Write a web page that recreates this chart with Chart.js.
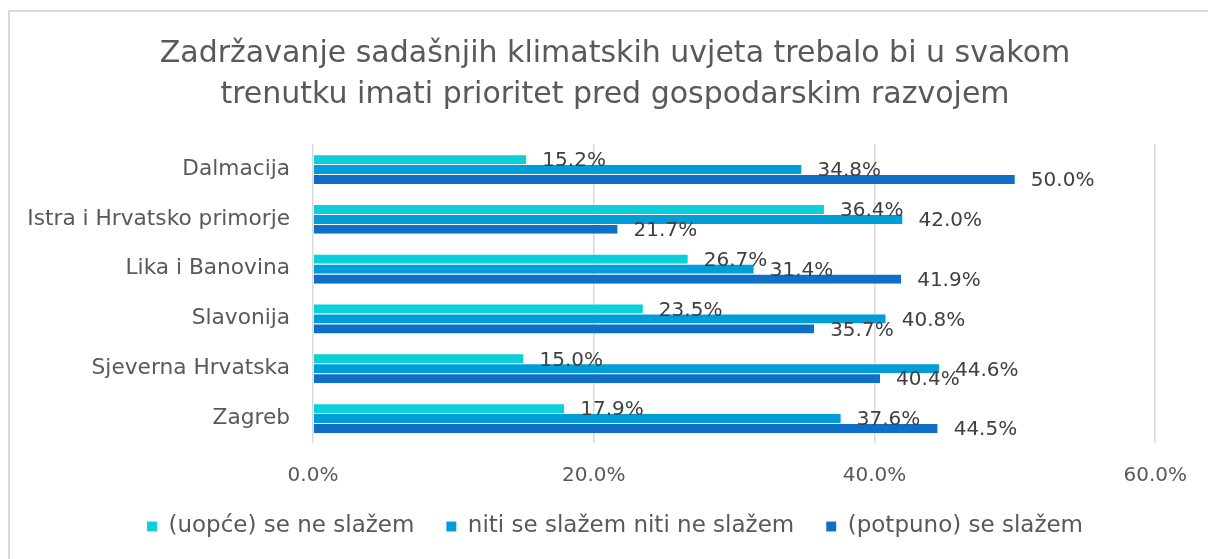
<!DOCTYPE html>
<html>
<head>
<meta charset="utf-8">
<script src="https://cdn.jsdelivr.net/npm/chart.js@4/dist/chart.umd.min.js"></script>
<style>
  html, body { margin: 0; padding: 0; background: #fff; overflow: hidden; }
  #frame { position: absolute; left: 8px; top: 10px; width: 1220px; height: 580px; border: 2px solid #d9d9d9; box-sizing: border-box; }
  #wrap { position: absolute; left: 0; top: 0; width: 1208px; height: 559px; }
</style>
</head>
<body>
<div id="frame"></div>
<div id="wrap"><canvas id="c" width="1208" height="559"></canvas></div>
<script>
const titleLines = ["Zadržavanje sadašnjih klimatskih uvjeta trebalo bi u svakom", "trenutku imati prioritet pred gospodarskim razvojem"];
const categories = ["Dalmacija", "Istra i Hrvatsko primorje", "Lika i Banovina", "Slavonija", "Sjeverna Hrvatska", "Zagreb"];
const seriesNames = ["(uopće) se ne slažem", "niti se slažem niti ne slažem", "(potpuno) se slažem"];
const disagree = [15.2, 36.4, 26.7, 23.5, 15.0, 17.9];
const neutral = [34.8, 42.0, 31.4, 40.8, 44.6, 37.6];
const agree = [50.0, 21.7, 41.9, 35.7, 40.4, 44.5];
const xTicks = [0, 20, 40, 60];

const FONT = "'DejaVu Sans', sans-serif";
const TEXT = "#595959";

const labelPlugin = {
  id: 'barLabels',
  afterDatasetsDraw(chart) {
    const ctx = chart.ctx;
    ctx.save();
    ctx.font = "20px " + FONT;
    ctx.fillStyle = "#404040";
    ctx.textAlign = "left";
    ctx.textBaseline = "middle";
    chart.data.datasets.forEach((ds, i) => {
      const meta = chart.getDatasetMeta(i);
      meta.data.forEach((el, j) => {
        ctx.fillText(ds.data[j].toFixed(1) + "%", el.x + 16, el.y + 2);
      });
    });
    ctx.restore();
  }
};

new Chart(document.getElementById('c'), {
  type: 'bar',
  data: {
    labels: categories,
    datasets: [
      { label: seriesNames[0], data: disagree, backgroundColor: "#0BD0D9", borderColor: "rgba(255,255,255,0.35)", borderWidth: { top: 1 } },
      { label: seriesNames[1], data: neutral, backgroundColor: "#009DD9", borderColor: "rgba(255,255,255,0.35)", borderWidth: { top: 1 } },
      { label: seriesNames[2], data: agree, backgroundColor: "#0F6FC6", borderColor: "rgba(255,255,255,0.35)", borderWidth: { top: 1 } }
    ]
  },
  options: {
    indexAxis: 'y',
    responsive: false,
    animation: false,
    devicePixelRatio: 1,
    categoryPercentage: 0.6,
    barPercentage: 1.0,
    layout: { padding: { left: 22, right: 0, top: 0, bottom: 11 } },
    scales: {
      x: {
        min: 0, max: 60,
        afterBuildTicks(scale) { scale.ticks = xTicks.map(v => ({ value: v })); },
        afterFit(scale) { scale.height = 40; },
        grid: { color: "#d9d9d9", lineWidth: 1.5, drawTicks: false },
        border: { display: false },
        ticks: {
          padding: 21,
          color: TEXT,
          font: { family: FONT, size: 20 },
          callback: v => Number(v).toFixed(1) + "%"
        }
      },
      y: {
        afterFit(scale) { scale.width = 291; },
        grid: { display: false, drawTicks: false },
        border: { display: false },
        ticks: { padding: 23, color: TEXT, font: { family: FONT, size: 21.7 } }
      },
      yRightSpace: {
        type: 'linear',
        position: 'right',
        display: true,
        afterFit(scale) { scale.width = 51; },
        grid: { display: false, drawTicks: false },
        border: { display: false },
        ticks: { display: false }
      }
    },
    plugins: {
      title: {
        display: true,
        text: titleLines,
        color: TEXT,
        font: { family: FONT, size: 30, weight: 'normal', lineHeight: 1.37 },
        padding: { top: 34, bottom: 28 }
      },
      legend: {
        position: 'bottom',
        labels: {
          boxWidth: 10, boxHeight: 10, padding: 32,
          color: TEXT,
          font: { family: FONT, size: 23 }
        }
      },
      tooltip: { enabled: false }
    }
  },
  plugins: [labelPlugin]
});
</script>
</body>
</html>
